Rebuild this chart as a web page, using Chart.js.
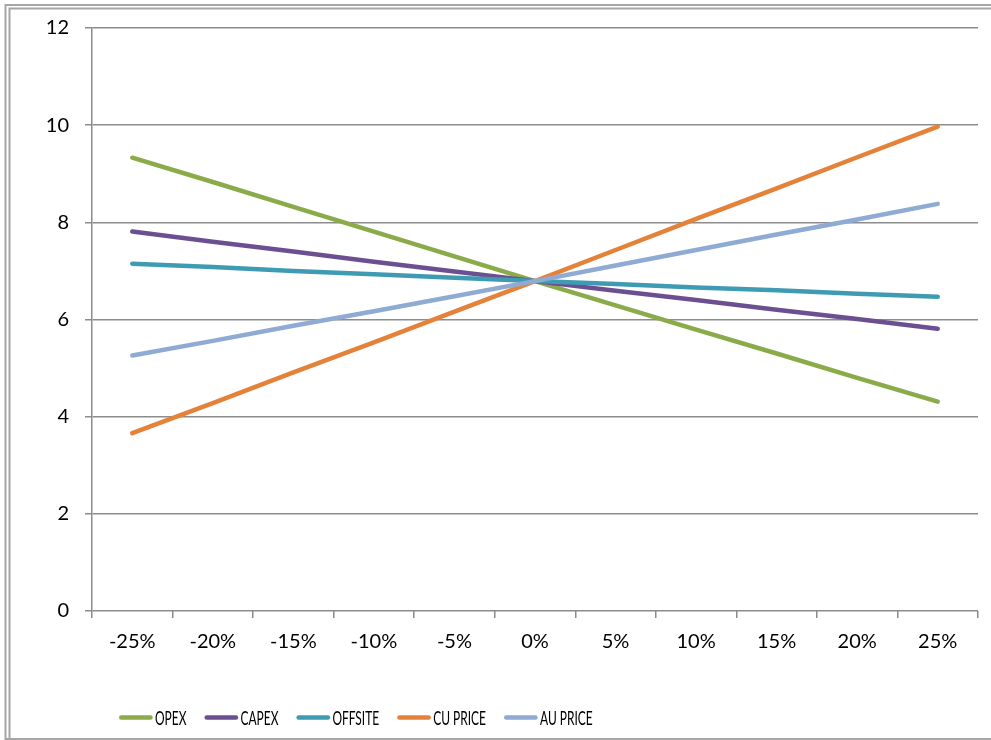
<!DOCTYPE html>
<html><head><meta charset="utf-8">
<script src="https://cdn.jsdelivr.net/npm/chart.js@4"></script>
<style>html,body{margin:0;padding:0;background:#fff;overflow:hidden}#wrap{width:991px;height:740px;position:relative}</style>
</head><body><div id="wrap"><canvas id="c" width="991" height="740"></canvas></div>
<script>
const categories = ['-25%','-20%','-15%','-10%','-5%','0%','5%','10%','15%','20%','25%'];
const opex    = [9.33, 8.83, 8.32, 7.81, 7.30, 6.79, 6.29, 5.79, 5.30, 4.80, 4.31];
const capex   = [7.81, 7.60, 7.40, 7.19, 6.99, 6.79, 6.59, 6.40, 6.20, 6.01, 5.81];
const offsite = [7.15, 7.08, 7.00, 6.93, 6.86, 6.79, 6.73, 6.66, 6.60, 6.53, 6.47];
const cuPrice = [3.66, 4.28, 4.91, 5.53, 6.16, 6.79, 7.43, 8.07, 8.70, 9.34, 9.97];
const auPrice = [5.26, 5.56, 5.87, 6.17, 6.48, 6.79, 7.11, 7.43, 7.75, 8.06, 8.38];
const seriesNames = ['OPEX','CAPEX','OFFSITE','CU PRICE','AU PRICE'];
const yMin = 0, yMax = 12, yStep = 2;

const seriesValues = [opex, capex, offsite, cuPrice, auPrice];
const seriesColors = ['#8bab4a','#6b4f91','#3f9bb4','#e5823a','#8faad3'];

const frameAndLegend = {
  id: 'frameAndLegend',
  afterDraw(chart) {
    const ctx = chart.ctx;
    ctx.save();
    ctx.strokeStyle = '#a6a6a6';
    ctx.lineWidth = 2;
    ctx.lineCap = 'butt';
    ctx.beginPath();
    ctx.moveTo(991, 5); ctx.lineTo(5.5, 5); ctx.lineTo(5.5, 739);
    ctx.moveTo(991, 8.5); ctx.lineTo(9.5, 8.5); ctx.lineTo(9.5, 739);
    ctx.moveTo(4.5, 739); ctx.lineTo(991, 739);
    ctx.stroke();

    let vx = 119;
    const y = 717.5;
    const sx = 0.63;
    ctx.font = '19px Lato';
    ctx.textBaseline = 'middle';
    ctx.textAlign = 'left';
    chart.data.datasets.forEach(ds => {
      ctx.strokeStyle = ds.borderColor;
      ctx.lineWidth = 4.5;
      ctx.lineCap = 'round';
      ctx.beginPath();
      ctx.moveTo(vx + 2.25, y);
      ctx.lineTo(vx + 31.5, y);
      ctx.stroke();
      const tx = vx + 36;
      ctx.save();
      ctx.translate(tx, y + 1);
      ctx.scale(sx, 1);
      ctx.fillStyle = '#000';
      ctx.fillText(ds.label, 0, 0);
      ctx.restore();
      const w = ctx.measureText(ds.label).width * sx;
      vx = tx + w + 18;
    });
    ctx.restore();
  }
};

new Chart(document.getElementById('c'), {
  type: 'line',
  data: {
    labels: categories,
    datasets: seriesNames.map((name, i) => ({
      label: name,
      data: seriesValues[i],
      borderColor: seriesColors[i],
      backgroundColor: seriesColors[i],
      borderWidth: 4.5,
      borderCapStyle: 'round',
      borderJoinStyle: 'round',
      pointRadius: 0,
      pointHoverRadius: 0,
      tension: 0,
      fill: false,
      order: seriesNames.length - i
    }))
  },
  options: {
    responsive: false,
    animation: false,
    events: [],
    layout: { padding: { top: 27, right: 13, left: 0, bottom: 0 } },
    plugins: {
      legend: { display: false },
      tooltip: { enabled: false },
      title: { display: false }
    },
    scales: {
      x: {
        type: 'category',
        offset: true,
        afterFit(scale) { scale.height = 129; },
        grid: {
          display: true,
          drawOnChartArea: false,
          drawTicks: true,
          offset: true,
          tickLength: 7,
          color: '#8c8c8c',
          lineWidth: 1.5
        },
        border: { display: false },
        ticks: {
          color: '#000',
          font: { family: 'Lato', size: 20 },
          padding: 12,
          maxRotation: 0,
          autoSkip: false
        }
      },
      y: {
        min: yMin,
        max: yMax,
        afterFit(scale) { scale.width = 92; },
        grid: {
          color: '#8c8c8c',
          lineWidth: 1.5,
          tickLength: 7,
          drawTicks: true
        },
        border: { display: true, color: '#8c8c8c', width: 1.5 },
        ticks: {
          stepSize: yStep,
          color: '#000',
          font: { family: 'Lato', size: 20 },
          padding: 16
        }
      }
    }
  },
  plugins: [frameAndLegend]
});
</script>
</body></html>
